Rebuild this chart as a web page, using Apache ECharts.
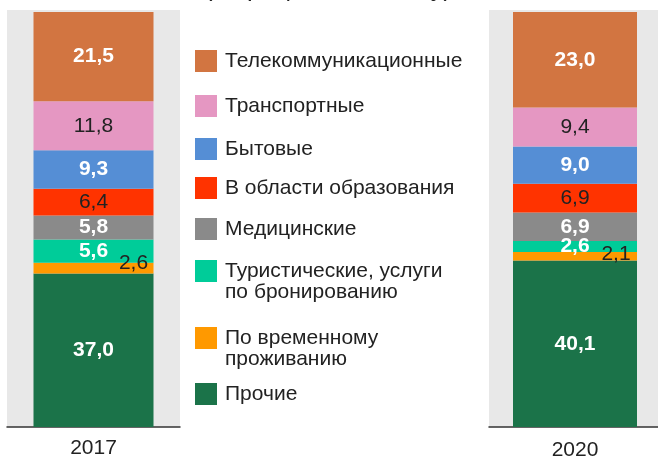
<!DOCTYPE html>
<html>
<head>
<meta charset="utf-8">
<script src="https://cdn.jsdelivr.net/npm/echarts@6/dist/echarts.min.js"></script>
<style>
html, body { margin: 0; padding: 0; background: #fff; }
#container { width: 658px; height: 458px; }
</style>
</head>
<body>
<div id="container"></div>
<script>
// годы (по одному столбцу на год)
var years = ['2017', '2020'];
// виды услуг снизу вверх, как в стопке
var categories = [
    'Прочие',
    'По временному\nпроживанию',
    'Туристические, услуги\nпо бронированию',
    'Медицинские',
    'В области образования',
    'Бытовые',
    'Транспортные',
    'Телекоммуникационные'
];
// доли, %
var values2017 = [37.0, 2.6, 5.6, 5.8, 6.4, 9.3, 11.8, 21.5];
var values2020 = [40.1, 2.1, 2.6, 6.9, 6.9, 9.0, 9.4, 23.0];
var subtitle = '(в процентах к итогу)';

var colors = ['#1b7349', '#ff9900', '#00cc99', '#8a8a8a', '#ff3300', '#558ed5', '#e597c2', '#d27541'];
// белая жирная подпись или тёмная обычная
var whiteLabel = [true, false, true, true, false, true, false, true];
// верх легенды для каждого вида (в порядке categories)
var legendTops = [383, 306.5, 239.5, 218, 177, 138, 95, 50];
var font = '"Liberation Sans", Arial, sans-serif';

function fmt(v) {
    return v.toFixed(1).replace('.', ',');
}

function makeSeries(values, idx, barWidth) {
    return categories.map(function (name, i) {
        var white = whiteLabel[i];
        var label = {
            show: true,
            position: 'inside',
            fontSize: 21,
            fontFamily: font,
            color: white ? '#ffffff' : '#222222',
            fontWeight: white ? 'bold' : 'normal',
            formatter: function (p) { return fmt(p.value); }
        };
        // маленький оранжевый сегмент - подпись сбоку
        if (i === 1) label.offset = idx === 0 ? [40, -5] : [41, -2];
        return {
            name: name,
            type: 'bar',
            stack: 'total' + idx,
            xAxisIndex: idx,
            yAxisIndex: idx,
            barWidth: barWidth,
            data: [values[i]],
            itemStyle: { color: colors[i] },
            label: label,
            emphasis: { disabled: true }
        };
    });
}

var legends = categories.map(function (name, i) {
    var twoLines = name.indexOf('\n') >= 0;
    return {
        left: 195,
        top: legendTops[i],
        padding: 0,
        itemWidth: 22,
        itemHeight: 22,
        icon: 'rect',
        selectedMode: false,
        data: [name],
        // пустая первая строка, чтобы квадрат стоял против первой строки
        formatter: function (n) { return twoLines ? '\n' + n : n; },
        textStyle: {
            fontSize: 21,
            fontFamily: font,
            color: '#222222',
            lineHeight: 21,
            padding: [0, 0, 0, 3]
        }
    };
});

function xAxisFor(idx, margin) {
    return {
        type: 'category',
        gridIndex: idx,
        data: [years[idx]],
        axisTick: { show: false },
        axisLine: { lineStyle: { color: '#333333', width: 1.5 } },
        axisLabel: { fontSize: 21, fontFamily: font, color: '#222222', margin: margin }
    };
}

function yAxisFor(idx) {
    return { type: 'value', gridIndex: idx, min: 0, max: 100.5, show: false };
}

var dom = document.getElementById('container');
var myChart = echarts.init(dom, null, { renderer: 'canvas' });
var option = {
    animation: false,
    backgroundColor: '#ffffff',
    graphic: [{
        type: 'text',
        left: 204,
        top: -24,
        style: { text: subtitle, fontSize: 25.5, fontFamily: font, fill: '#222222' }
    }],
    legend: legends,
    grid: [
        { left: 7, right: 478, top: 10, bottom: 31, show: true, backgroundColor: '#e8e8e8', borderWidth: 0, outerBoundsMode: 'none' },
        { left: 489, right: -3, top: 10, bottom: 31, show: true, backgroundColor: '#e8e8e8', borderWidth: 0, outerBoundsMode: 'none' }
    ],
    xAxis: [xAxisFor(0, 11), xAxisFor(1, 13)],
    yAxis: [yAxisFor(0), yAxisFor(1)],
    series: makeSeries(values2017, 0, 120).concat(makeSeries(values2020, 1, 124))
};
myChart.setOption(option);
</script>
</body>
</html>
